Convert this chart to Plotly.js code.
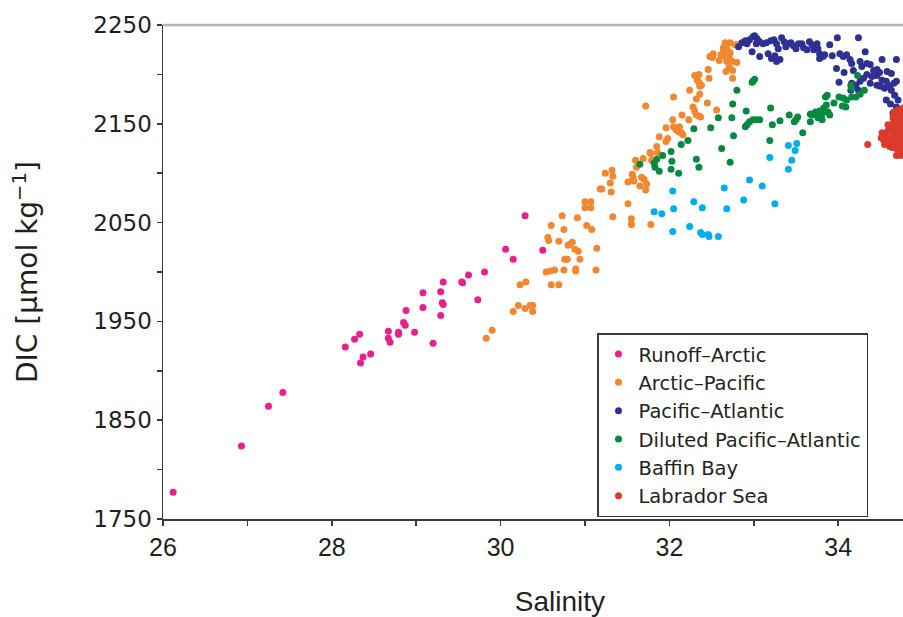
<!DOCTYPE html>
<html>
<head>
<meta charset="utf-8">
<script src="https://cdn.plot.ly/plotly-3.0.1.min.js"></script>
<style>
html,body{margin:0;padding:0;background:#fff;overflow:hidden;}
#wrap{width:903px;height:617px;overflow:hidden;}
#chart{width:957px;height:617px;}
</style>
</head>
<body>
<div id="wrap"><div id="chart"></div></div>
<script>
// ---- Data ----
const seriesNames = ["Runoff–Arctic", "Arctic–Pacific", "Pacific–Atlantic", "Diluted Pacific–Atlantic", "Baffin Bay", "Labrador Sea"];
const seriesColors = ["#ec1d8d", "#f3872f", "#2e3192", "#078942", "#00aeef", "#dc3b2c"];

const runoffSal = [26.12,26.93,27.25,27.42,28.16,28.27,28.33,28.37,28.34,28.46,28.67,28.67,28.69,28.79,28.79,28.85,28.87,28.88,28.98,29.08,29.08,29.20,29.29,29.32,29.31,29.32,29.29,29.54,29.55,29.62,29.73,29.81,30.06,30.15,30.29,30.50];
const runoffDic = [1777,1824,1864,1878,1924,1932,1937,1914,1908,1917,1940,1933,1929,1939,1937,1949,1946,1961,1939,1979,1964,1928,1980,1990,1969,1967,1956,1990,1989,1997,1972,2000,2023,2013,2057,2022];

const arcPacSal = [29.83,29.90,30.15,30.21,30.29,30.35,30.38,30.38,30.23,30.30,30.54,30.59,30.64,30.60,30.69,30.75,30.89,30.89,30.76,30.79,30.94,31.13,30.56,30.57,30.69,30.60,30.73,30.75,30.80,30.82,30.85,30.88,30.92,30.91,31.02,31.08,31.00,31.07,31.00,31.07,31.14,31.18,31.20,31.31,31.30,31.24,31.32,31.33,31.51,31.51,31.56,31.57,31.58,31.65,31.67,31.70,31.72,31.73,31.60,31.69,31.61,31.77,31.33,31.55,31.55,31.78,31.72,31.79,31.78,31.85,31.86,31.88,31.96,31.98,31.96,32.04,32.05,32.08,32.11,32.12,32.14,32.16,32.15,32.23,32.05,32.24,32.32,32.36,32.45,32.30,32.35,32.33,32.36,32.35,32.46,32.47,32.48,32.28,32.30,32.32,32.35,32.37,32.56,32.66,32.72,32.78,32.82,32.64,32.68,32.64,32.72,32.61,32.66,32.71,32.52,32.51,32.59,32.68,32.75,32.80,32.71,32.75,32.67,32.75,32.38,31.82];
const arcPacDic = [1933,1941,1960,1966,1963,1966,1966,1960,1987,1990,2000,2001,2002,1987,1987,2002,2003,2001,2013,2013,2013,2002,2035,2032,2031,2047,2057,2043,2027,2028,2030,2023,2021,2055,2047,2043,2071,2071,2065,2065,2024,2084,2084,2081,2090,2100,2103,2097,2069,2091,2099,2096,2092,2087,2096,2094,2083,2089,2113,2115,2106,2121,2056,2054,2048,2048,2168,2113,2120,2127,2121,2137,2146,2135,2132,2154,2147,2144,2142,2147,2141,2139,2159,2154,2177,2184,2175,2180,2171,2199,2200,2194,2188,2192,2205,2196,2218,2167,2163,2159,2158,2157,2164,2232,2232,2230,2230,2227,2226,2223,2222,2220,2218,2217,2221,2217,2214,2213,2213,2212,2207,2204,2203,2196,2189,2110];

const pacAtlSal = [32.82,32.86,32.90,32.92,32.95,32.99,33.01,33.04,33.07,33.03,32.98,33.07,33.11,33.15,33.17,33.20,33.24,33.27,33.29,33.25,33.21,33.27,33.31,33.33,33.36,33.38,33.41,33.44,33.47,33.50,33.53,33.57,33.59,33.63,33.66,33.69,33.71,33.75,33.76,33.78,33.82,33.78,33.84,33.90,33.93,33.99,34.02,34.06,34.10,34.14,34.24,34.32,33.98,34.07,34.18,34.16,34.26,34.28,34.34,34.38,34.42,34.46,34.49,34.52,34.58,34.63,34.69,34.69,34.66,34.61,34.57,34.52,34.46,34.40,34.34,34.30,34.26,34.21,34.16,34.18,34.01,34.15,34.24,34.38,34.46,34.50,34.55,34.59,34.63,34.67,34.71,34.57,34.62,34.69,34.73,34.71,34.65,32.99];
const pacAtlDic = [2228,2232,2234,2231,2235,2238,2239,2236,2233,2231,2223,2218,2231,2232,2221,2234,2235,2231,2226,2219,2216,2213,2215,2237,2233,2228,2231,2232,2229,2226,2231,2231,2227,2225,2233,2230,2225,2231,2226,2221,2218,2216,2220,2230,2219,2237,2221,2218,2220,2215,2237,2223,2206,2202,2204,2211,2213,2208,2211,2210,2204,2205,2202,2215,2203,2201,2215,2193,2191,2188,2193,2194,2199,2198,2200,2196,2193,2189,2191,2188,2192,2184,2184,2191,2189,2188,2186,2189,2184,2179,2174,2174,2170,2167,2164,2159,2161,2193];

const dilutedSal = [31.65,31.82,31.83,31.85,31.88,31.92,32.02,32.03,32.02,32.11,32.14,32.22,32.29,32.32,32.35,32.49,32.58,32.62,32.72,32.74,32.75,32.76,32.80,32.91,32.90,32.92,32.95,32.99,33.03,33.07,33.01,32.98,33.19,33.20,33.22,33.31,33.42,33.48,33.52,33.50,33.58,33.67,33.69,33.67,33.73,33.76,33.78,33.81,33.81,33.83,33.86,33.85,33.87,33.88,33.90,33.95,34.01,34.06,34.10,34.05,34.09,34.16,34.21,34.26,34.31,34.15,34.16,34.23,33.76];
const dilutedDic = [2109,2110,2106,2114,2102,2118,2122,2112,2104,2100,2129,2133,2145,2114,2106,2146,2156,2125,2111,2156,2170,2138,2184,2163,2147,2149,2152,2154,2154,2154,2195,2192,2133,2166,2149,2153,2159,2152,2157,2154,2141,2160,2159,2152,2162,2160,2163,2160,2154,2166,2169,2177,2179,2162,2159,2171,2177,2176,2174,2168,2167,2177,2177,2180,2184,2189,2186,2199,2156];

const baffinSal = [32.04,31.82,31.91,32.05,32.29,32.39,32.04,32.24,32.37,32.39,32.46,32.47,32.58,32.65,32.68,32.88,32.95,33.10,33.25,33.19,33.41,33.51,33.49,33.45,33.41];
const baffinDic = [2082,2061,2059,2064,2071,2065,2041,2046,2040,2038,2038,2036,2036,2085,2064,2073,2093,2087,2069,2116,2128,2130,2123,2113,2104];

const labradorSal = [34.35,34.51,34.52,34.54,34.57,34.59,34.60,34.61,34.63,34.64,34.65,34.66,34.66,34.67,34.69,34.69,34.70,34.70,34.71,34.71,34.72,34.72,34.73,34.73,34.74,34.74,34.76,34.76,34.76,34.77,34.77,34.77,34.77,34.67,34.71,34.73,34.55,34.64,34.61,34.69,34.74,34.72,34.65,34.59,34.66];
const labradorDic = [2129,2136,2141,2133,2138,2143,2132,2127,2149,2136,2141,2154,2129,2146,2159,2134,2150,2124,2164,2142,2155,2128,2147,2136,2161,2132,2152,2140,2124,2156,2146,2129,2166,2139,2149,2129,2129,2126,2144,2118,2118,2121,2156,2149,2162];

const xTickVals = [26,28,30,32,34];
const xTickText = ["26","28","30","32","34"];
const yTickVals = [1750,1850,1950,2050,2150,2250];
const yTickText = ["1750","1850","1950","2050","2150","2250"];

const xs = [runoffSal, arcPacSal, pacAtlSal, dilutedSal, baffinSal, labradorSal];
const ys = [runoffDic, arcPacDic, pacAtlDic, dilutedDic, baffinDic, labradorDic];

const traces = seriesNames.map((name, i) => ({
  type: 'scatter',
  mode: 'markers',
  name: name,
  x: xs[i],
  y: ys[i],
  marker: {color: seriesColors[i], size: 7, line: {width: 0}},
  cliponaxis: true
}));

const axisColor = '#3a3a3a';
const textColor = '#231f20';

// The reference figure is cropped at its right edge: the plot area runs past the
// 903 px window (to 957 px) so that the axis title sits where the original has it.
const layout = {
  width: 957,
  height: 617,
  margin: {l: 163, r: 0, t: 25, b: 98, pad: 0},
  paper_bgcolor: '#ffffff',
  plot_bgcolor: '#ffffff',
  font: {family: 'DejaVu Sans, sans-serif', color: textColor},
  showlegend: true,
  xaxis: {
    range: [26, 35.408],
    tickmode: 'array',
    tickvals: xTickVals,
    ticktext: xTickText,
    ticks: 'outside',
    ticklen: 5,
    tickwidth: 1.5,
    tickcolor: axisColor,
    minor: {tickmode: 'linear', tick0: 26, dtick: 1, ticks: 'outside', ticklen: 5, tickwidth: 1.5, tickcolor: axisColor, showgrid: false},
    showline: true,
    linecolor: axisColor,
    linewidth: 1.5,
    showgrid: false,
    zeroline: false,
    tickfont: {family: 'Liberation Sans, sans-serif', size: 25, color: textColor},
    title: {text: 'Salinity', standoff: 33, font: {family: 'Liberation Sans, sans-serif', size: 28, color: textColor}}
  },
  yaxis: {
    range: [1750, 2250],
    tickmode: 'array',
    tickvals: yTickVals,
    ticktext: yTickText,
    ticks: 'outside',
    ticklen: 5,
    tickwidth: 1.5,
    tickcolor: axisColor,
    minor: {tickmode: 'linear', tick0: 1750, dtick: 50, ticks: 'outside', ticklen: 5, tickwidth: 1.5, tickcolor: axisColor, showgrid: false},
    showline: true,
    linecolor: axisColor,
    linewidth: 1.5,
    showgrid: false,
    zeroline: false,
    tickfont: {family: 'DejaVu Sans, sans-serif', size: 23, color: textColor},
    title: {text: 'DIC [μmol kg<sup>−1</sup>]', standoff: 47, font: {family: 'DejaVu Sans, sans-serif', size: 28, color: textColor}}
  },
  legend: {
    x: 0.5466, y: 0.376, xanchor: 'left', yanchor: 'top',
    bgcolor: '#ffffff',
    bordercolor: axisColor,
    borderwidth: 1.5,
    font: {family: 'DejaVu Sans, sans-serif', size: 19.5, color: textColor}
  },
  shapes: [
    {type: 'line', xref: 'paper', yref: 'paper', x0: 0, x1: 1, y0: 1, y1: 1,
     line: {color: '#b5b5b5', width: 2.5}}
  ]
};

Plotly.newPlot('chart', traces, layout, {displayModeBar: false, staticPlot: true}).then(() => {
  // drop Plotly's hidden text-measuring helper once drawing is done
  const tester = document.getElementById('js-plotly-tester');
  if (tester) tester.remove();
});
</script>
</body>
</html>
